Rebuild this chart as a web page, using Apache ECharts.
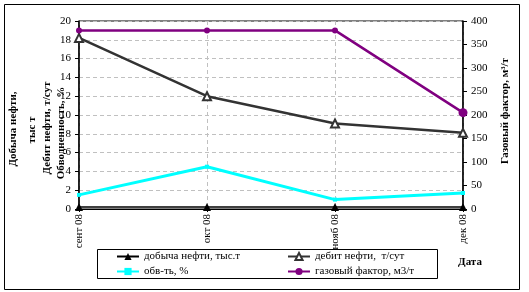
<!DOCTYPE html>
<html><head><meta charset="utf-8">
<script src="https://cdn.jsdelivr.net/npm/echarts@6/dist/echarts.min.js"></script>
<style>html,body{margin:0;padding:0;background:#fff}#c{width:529px;height:292px}</style>
</head><body><div id="c"></div>
<script>
var categories = ['сент 08', 'окт 08', 'нояб 08', 'дек 08'];
var dobycha = [0.2, 0.2, 0.2, 0.2];
var debit = [18.2, 12.0, 9.1, 8.1];
var obv = [1.5, 4.5, 1.0, 1.7];
var gaz = [380, 380, 380, 205];
var leftTicks = {min: 0, max: 20, interval: 2};
var rightTicks = {min: 0, max: 400, interval: 50};

var F = 'Liberation Serif';
var chart = echarts.init(document.getElementById('c'));
chart.setOption({
  animation: false,
  backgroundColor: '#fff',
  grid: {left: 79, right: 66, top: 21, bottom: 83, show: true, borderColor: '#000', borderWidth: 1},
  xAxis: {
    type: 'category', data: categories, boundaryGap: false,
    axisLine: {lineStyle: {color: '#000', width: 1}},
    axisTick: {show: true, length: 3, lineStyle: {color: '#000'}},
    axisLabel: {rotate: 90, margin: 5, fontFamily: F, fontSize: 11, color: '#000'},
    splitLine: {show: true, lineStyle: {color: '#c0c0c0', type: [4, 3]}}
  },
  yAxis: [{
    type: 'value', min: leftTicks.min, max: leftTicks.max, interval: leftTicks.interval,
    axisLine: {show: true, lineStyle: {color: '#000', width: 1.5}},
    axisTick: {show: true, length: 4, lineStyle: {color: '#000'}},
    axisLabel: {margin: 8, fontFamily: F, fontSize: 11, color: '#000'},
    splitLine: {show: true, lineStyle: {color: '#c0c0c0', type: [4, 3]}}
  }, {
    type: 'value', min: rightTicks.min, max: rightTicks.max, interval: rightTicks.interval,
    position: 'right',
    axisLine: {show: true, lineStyle: {color: '#000', width: 1.5}},
    axisTick: {show: true, length: 4, lineStyle: {color: '#000'}},
    axisLabel: {margin: 8, fontFamily: F, fontSize: 11, color: '#000'},
    splitLine: {show: false}
  }],
  legend: [{
    orient: 'vertical', left: 116, top: 251, padding: 0, itemWidth: 22, itemHeight: 9, itemGap: 4,
    textStyle: {fontFamily: F, fontSize: 11, color: '#000'},
    data: ['добыча нефти, тыс.т', 'обв-ть, %']
  }, {
    orient: 'vertical', left: 287, top: 251, padding: 0, itemWidth: 22, itemHeight: 9, itemGap: 4,
    textStyle: {fontFamily: F, fontSize: 11, color: '#000'},
    data: ['дебит нефти,  т/сут', 'газовый фактор, м3/т']
  }],
  series: [{
    name: 'добыча нефти, тыс.т', type: 'line', data: dobycha, yAxisIndex: 0,
    symbol: 'triangle', symbolSize: 8, showAllSymbol: true,
    itemStyle: {color: '#000'}, lineStyle: {color: '#000', width: 1.5}, z: 3
  }, {
    name: 'дебит нефти,  т/сут', type: 'line', data: debit, yAxisIndex: 0,
    symbol: 'emptyTriangle', symbolSize: 8,
    itemStyle: {color: '#333', borderColor: '#000', borderWidth: 1},
    lineStyle: {color: '#333', width: 2.5}, z: 3
  }, {
    name: 'обв-ть, %', type: 'line', data: obv, yAxisIndex: 0,
    symbol: 'rect', symbolSize: 4,
    itemStyle: {color: '#00ffff'}, lineStyle: {color: '#00ffff', width: 3}, z: 2
  }, {
    name: 'газовый фактор, м3/т', type: 'line', data: gaz, yAxisIndex: 1,
    symbol: 'circle', symbolSize: function (v, p) { return p.dataIndex === 3 ? 9 : 6; },
    itemStyle: {color: '#800080'}, lineStyle: {color: '#800080', width: 2.5}, z: 4
  }],
  graphic: [
    {type: 'rect', shape: {x: 4.5, y: 4.5, width: 515, height: 285}, style: {fill: null, stroke: '#000', lineWidth: 1}, silent: true},
    {type: 'rect', shape: {x: 97.5, y: 249.5, width: 340, height: 29}, style: {fill: null, stroke: '#000', lineWidth: 1}, silent: true},
    {type: 'text', x: 13, y: 129, rotation: Math.PI / 2, style: {text: 'Добыча нефти,', font: 'bold 11px "Liberation Serif"', fill: '#000', align: 'center', verticalAlign: 'middle'}},
    {type: 'text', x: 32, y: 130, rotation: Math.PI / 2, style: {text: 'тыс т', font: 'bold 11px "Liberation Serif"', fill: '#000', align: 'center', verticalAlign: 'middle'}},
    {type: 'text', x: 47, y: 128, rotation: Math.PI / 2, style: {text: 'Дебит нефти, т/сут', font: 'bold 11px "Liberation Serif"', fill: '#000', align: 'center', verticalAlign: 'middle'}},
    {type: 'text', x: 61, y: 133, rotation: Math.PI / 2, style: {text: 'Обводненность, %', font: 'bold 11px "Liberation Serif"', fill: '#000', align: 'center', verticalAlign: 'middle'}},
    {type: 'text', x: 505, y: 111, rotation: Math.PI / 2, style: {text: 'Газовый фактор, м³/т', font: 'bold 11px "Liberation Serif"', fill: '#000', align: 'center', verticalAlign: 'middle'}},
    {type: 'text', x: 470, y: 262, style: {text: 'Дата', font: 'bold 11px "Liberation Serif"', fill: '#000', align: 'center', verticalAlign: 'middle'}}
  ]
});
</script></body></html>
